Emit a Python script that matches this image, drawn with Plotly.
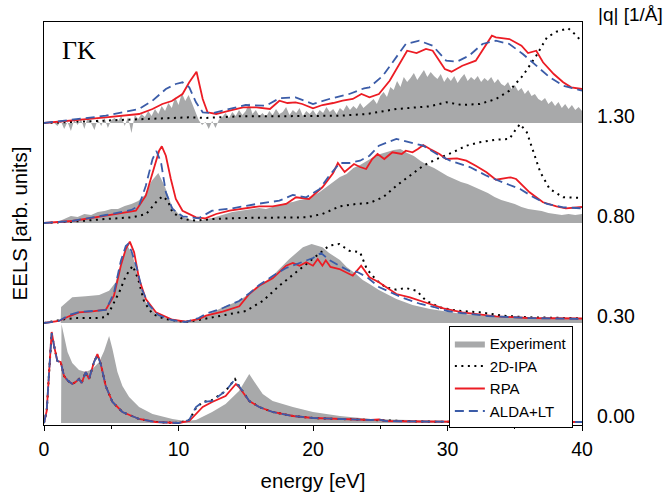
import numpy as np
import plotly.graph_objects as go

# ---------------- tick labels / categories ----------------
q_labels = ["0.00", "0.30", "0.80", "1.30"]
panel_offsets = [0.0, 1.0, 2.0, 3.0]
x_ticks = [0, 10, 20, 30, 40]

# ---------------- panel |q| = 0.00 ----------------
e4_exp = [0, 1.27, 1.3, 1.5, 1.75, 2.1, 2.6, 3.1, 3.6, 4.1, 4.47, 4.84, 5.09, 5.46, 5.83, 6.33, 7.07, 8.07,
          9.55, 10.5, 11.3, 12.5, 13.5, 14.5, 15.0, 15.26, 15.6, 16.26, 17.0, 18.5, 20.0, 22.0, 24.3, 27, 30, 35, 40]
v4_exp = [0, 0, 0.99, 0.87, 0.71, 0.60, 0.53, 0.51, 0.54, 0.61, 0.72, 0.87, 0.74, 0.51, 0.37, 0.26, 0.16, 0.09,
          0.04, 0.02, 0.03, 0.11, 0.19, 0.32, 0.44, 0.49, 0.42, 0.29, 0.22, 0.16, 0.11, 0.07, 0.04, 0.03, 0.02, 0.015, 0.01]

e4_rpa = [0, 0.2, 0.4, 0.57, 0.75, 0.99, 1.24, 1.49, 1.8, 2.11, 2.35, 2.6, 2.8, 3.1, 3.35, 3.72, 3.97, 4.22,
          4.59, 5.09, 5.83, 7.07, 8.3, 10.0, 10.8, 11.3, 11.8, 12.5, 13.5, 14.27, 14.5, 15.26, 16.0, 17.0, 18.5,
          20.0, 22.0, 24.3, 24.9, 25.4, 28, 32, 36, 40]
v4_rpa = [0, 0.12, 0.55, 0.91, 0.77, 0.62, 0.61, 0.47, 0.42, 0.39, 0.41, 0.44, 0.40, 0.51, 0.44, 0.61, 0.69, 0.59,
          0.37, 0.21, 0.11, 0.04, 0.01, 0.0, 0.02, 0.09, 0.16, 0.21, 0.27, 0.39, 0.36, 0.22, 0.16, 0.11, 0.07,
          0.05, 0.04, 0.03, 0.035, 0.02, 0.015, 0.01, 0.01, 0.01]

e4_alda = [0, 0.2, 0.4, 0.57, 0.75, 0.99, 1.24, 1.49, 1.8, 2.11, 2.35, 2.6, 2.8, 3.1, 3.35, 3.72, 3.97, 4.22,
           4.59, 5.09, 5.83, 7.07, 8.3, 10.0, 10.8, 11.3, 11.8, 12.5, 13.5, 14.1, 14.5, 15.26, 16.0, 17.0, 18.5,
           20.0, 22.0, 24.3, 24.9, 25.4, 28, 32, 36, 40]
v4_alda = [0, 0.12, 0.55, 0.90, 0.77, 0.62, 0.61, 0.47, 0.42, 0.39, 0.41, 0.44, 0.40, 0.51, 0.44, 0.61, 0.68, 0.59,
           0.37, 0.21, 0.11, 0.04, 0.01, 0.0, 0.03, 0.16, 0.21, 0.22, 0.32, 0.42, 0.37, 0.22, 0.16, 0.11, 0.07,
           0.05, 0.04, 0.03, 0.035, 0.02, 0.015, 0.01, 0.01, 0.01]

e4_ipa = [0, 0.2, 0.4, 0.57, 0.75, 0.99, 1.24, 1.49, 1.8, 2.11, 2.35, 2.6, 2.8, 3.1, 3.35, 3.72, 3.97, 4.22,
          4.59, 5.09, 5.83, 7.07, 8.3, 10.0, 10.8, 11.3, 11.8, 12.5, 13.5, 14.2, 14.5, 15.26, 16.0, 17.0, 18.5,
          20.0, 22.0, 24.3, 28, 32, 36, 40]
v4_ipa = [0, 0.12, 0.55, 0.90, 0.77, 0.62, 0.61, 0.47, 0.42, 0.39, 0.41, 0.44, 0.40, 0.51, 0.44, 0.61, 0.68, 0.59,
          0.37, 0.21, 0.11, 0.04, 0.01, 0.0, 0.03, 0.15, 0.21, 0.23, 0.32, 0.44, 0.37, 0.22, 0.16, 0.11, 0.07,
          0.05, 0.04, 0.03, 0.015, 0.01, 0.01, 0.01]

# ---------------- panel |q| = 0.30 ----------------
e3_exp = [0, 1.24, 1.27, 2.1, 3.1, 4.1, 4.84, 5.33, 5.83, 6.2, 6.6, 7.07, 7.57, 8.32, 9.55, 11.0, 12.04, 13.3,
          14.5, 15.75, 17.0, 18.24, 19.25, 19.9, 20.7, 21.2, 22.0, 22.5, 23.2, 23.7, 24.2, 24.9, 26.2, 27.4, 28.7,
          31.1, 33.6, 36.1, 40]
v3_exp = [0, 0, 0.16, 0.257, 0.267, 0.28, 0.323, 0.407, 0.64, 0.775, 0.673, 0.407, 0.207, 0.09, 0.033, 0.02,
          0.073, 0.157, 0.223, 0.34, 0.473, 0.64, 0.757, 0.79, 0.757, 0.70, 0.63, 0.56, 0.49, 0.43, 0.39, 0.33,
          0.24, 0.18, 0.14, 0.09, 0.067, 0.053, 0.04]

e3_rpa = [0, 1.12, 1.86, 2.6, 3.6, 4.6, 5.2, 5.71, 6.08, 6.38, 6.7, 7.07, 7.57, 8.32, 9.55, 10.55, 11.54, 12.04,
          13.28, 14.52, 15.26, 16.0, 17.0, 18.0, 18.5, 19.0, 19.5, 20.0, 20.35, 20.7, 20.95, 21.3, 21.96, 22.96,
          23.58, 24.2, 24.9, 26.2, 27.2, 27.9, 28.7, 29.7, 31.1, 33.6, 36, 40]
v3_rpa = [0, 0.02, 0.067, 0.107, 0.117, 0.133, 0.273, 0.573, 0.74, 0.813, 0.707, 0.44, 0.24, 0.107, 0.033, 0.013,
          0.04, 0.073, 0.113, 0.167, 0.29, 0.373, 0.447, 0.573, 0.60, 0.573, 0.607, 0.573, 0.64, 0.573, 0.627,
          0.56, 0.54, 0.473, 0.573, 0.457, 0.407, 0.29, 0.257, 0.223, 0.19, 0.147, 0.107, 0.067, 0.05, 0.045]

e3_alda = [0, 1.1, 1.86, 2.6, 3.6, 4.6, 5.2, 5.71, 6.08, 6.25, 6.5, 6.9, 7.3, 7.8, 8.5, 9.5, 10.5, 11.5, 12.0,
           13.3, 14.5, 15.3, 16.0, 17.0, 18.0, 19.0, 20.0, 20.6, 21.2, 22.0, 22.7, 23.3, 24.0, 24.9, 26.0, 26.7,
           28.0, 29.0, 30.0, 31.0, 33.0, 36.0, 40]
v3_alda = [0, 0.02, 0.08, 0.11, 0.12, 0.13, 0.30, 0.62, 0.77, 0.79, 0.72, 0.55, 0.33, 0.18, 0.08, 0.03, 0.01,
           0.05, 0.09, 0.15, 0.22, 0.30, 0.38, 0.47, 0.55, 0.60, 0.65, 0.70, 0.63, 0.57, 0.52, 0.51, 0.46, 0.36,
           0.29, 0.25, 0.19, 0.16, 0.12, 0.10, 0.07, 0.05, 0.04]

e3_ipa = [0, 1.6, 2.5, 4.0, 4.6, 4.84, 5.6, 6.08, 6.6, 7.0, 7.45, 8.07, 9.0, 10.5, 11.5, 13.3, 15.0, 16.26, 17.5,
          18.74, 20.0, 21.2, 21.96, 22.7, 23.5, 24.0, 24.7, 25.4, 26.2, 26.9, 27.7, 28.4, 29.4, 30.7, 32.4, 34.1,
          36.0, 40]
v3_ipa = [0, 0.04, 0.05, 0.05, 0.06, 0.107, 0.31, 0.47, 0.573, 0.44, 0.21, 0.09, 0.04, 0.01, 0.03, 0.073, 0.12,
          0.22, 0.373, 0.507, 0.64, 0.773, 0.79, 0.723, 0.707, 0.54, 0.43, 0.357, 0.333, 0.35, 0.323, 0.223, 0.157,
          0.123, 0.107, 0.073, 0.057, 0.047]

# ---------------- panel |q| = 0.80 ----------------
# experiment sampled every 0.5 eV from 0 to 40
v2_exp = [0.0, 0.0, 0.01, 0.04, 0.07, 0.06, 0.09, 0.08, 0.11, 0.12, 0.14, 0.14, 0.17, 0.19, 0.22, 0.28,
          0.42, 0.50, 0.36, 0.17, 0.09, 0.05, 0.03, 0.02, 0.04, 0.05, 0.07, 0.09, 0.11, 0.12, 0.13, 0.14,
          0.15, 0.14, 0.16, 0.18, 0.20, 0.21, 0.23, 0.24, 0.27, 0.31, 0.36, 0.41, 0.46, 0.49, 0.55, 0.58,
          0.62, 0.66, 0.69, 0.71, 0.73, 0.74, 0.70, 0.67, 0.62, 0.58, 0.55, 0.51, 0.47, 0.44, 0.41, 0.39,
          0.36, 0.33, 0.30, 0.26, 0.23, 0.21, 0.19, 0.16, 0.14, 0.13, 0.12, 0.10, 0.09, 0.08, 0.09, 0.08, 0.09]

e2_rpa = [0, 2.11, 4.6, 6.83, 7.57, 8.2, 8.56, 8.76, 9.06, 9.43, 9.8, 10.3, 11.3, 12.0, 12.8, 13.8, 15.0, 16.0,
          17.0, 18.0, 18.74, 19.7, 20.7, 21.5, 21.85, 22.35, 23.05, 23.5, 23.95, 24.4, 24.8, 25.3, 25.9, 26.6,
          26.9, 27.4, 27.8, 28.2, 28.7, 29.4, 29.9, 30.7, 31.4, 32.1, 32.9, 33.6, 34.7, 35.1, 36.1, 37.1, 38.1,
          38.8, 40]
v2_rpa = [0, 0.02, 0.073, 0.123, 0.273, 0.573, 0.723, 0.767, 0.673, 0.44, 0.24, 0.123, 0.057, 0.047, 0.09,
          0.123, 0.147, 0.167, 0.167, 0.19, 0.257, 0.24, 0.357, 0.50, 0.60, 0.51, 0.59, 0.56, 0.54, 0.64, 0.69,
          0.64, 0.707, 0.69, 0.723, 0.707, 0.74, 0.78, 0.74, 0.69, 0.64, 0.647, 0.623, 0.573, 0.507, 0.433,
          0.457, 0.44, 0.307, 0.207, 0.167, 0.147, 0.16]

e2_alda = [0, 2.1, 4.6, 6.5, 7.07, 7.57, 8.07, 8.36, 8.7, 9.06, 9.55, 10.3, 11.5, 12.5, 14.0, 15.8, 17.5, 18.5,
           19.5, 20.5, 21.2, 22.0, 22.7, 23.5, 24.2, 24.9, 26.2, 27.2, 28.2, 29.2, 30.2, 31.7, 32.9, 34.1, 35.4,
           36.4, 37.4, 38.6, 40]
v2_alda = [0, 0.02, 0.08, 0.13, 0.173, 0.373, 0.64, 0.72, 0.607, 0.307, 0.14, 0.067, 0.047, 0.123, 0.147, 0.19,
           0.223, 0.28, 0.257, 0.34, 0.473, 0.60, 0.60, 0.623, 0.673, 0.773, 0.84, 0.807, 0.773, 0.69, 0.623,
           0.557, 0.473, 0.407, 0.34, 0.257, 0.19, 0.157, 0.147]

e2_ipa = [0, 2.1, 4.6, 6.6, 7.6, 8.32, 8.8, 9.2, 9.55, 10.3, 11.3, 12.5, 14.5, 17.0, 19.5, 20.7, 21.5, 22.0,
          23.2, 24.2, 25.2, 26.2, 27.2, 28.2, 29.2, 30.4, 31.4, 32.4, 33.6, 34.6, 35.1, 35.4, 35.9, 36.4, 36.9,
          37.6, 38.6, 40]
v2_ipa = [0, 0.013, 0.04, 0.057, 0.09, 0.207, 0.267, 0.223, 0.107, 0.04, 0.023, 0.04, 0.05, 0.05, 0.057, 0.09,
          0.14, 0.167, 0.19, 0.2, 0.257, 0.373, 0.473, 0.573, 0.64, 0.707, 0.773, 0.807, 0.833, 0.84, 0.94, 0.99,
          0.907, 0.707, 0.507, 0.34, 0.257, 0.25]

# ---------------- panel |q| = 1.30 ----------------
# experiment sampled every 0.25 eV from 0 to 40 (noisy)
v1_exp = [0.0, 0.0, 0.01, 0.0, -0.03, 0.02, -0.06, 0.01, -0.08,
          0.03, -0.02, 0.04, -0.06, 0.06, 0.0, -0.07, 0.04, -0.03, 0.05, -0.05, 0.03,
          0.05, 0.02, 0.07, -0.03, 0.06, -0.1, 0.08, 0.04, 0.09, 0.06, 0.12, 0.07,
          0.14, 0.09, 0.17, 0.12, 0.2, 0.15, 0.26, 0.18, 0.3, 0.22, 0.28, 0.2,
          0.12, 0.03, -0.02, 0.01, -0.06, 0.02, -0.05, 0.03,
          0.06, 0.1, 0.05, 0.11, 0.07, 0.13, 0.08, 0.12, 0.2, 0.09, 0.13, 0.07,
          0.1, 0.06, 0.12, 0.08, 0.14, 0.09, 0.11, 0.16, 0.08, 0.13, 0.1, 0.15, 0.07, 0.12, 0.09, 0.13,
          0.08, 0.13, 0.1, 0.16, 0.11, 0.14, 0.09, 0.15, 0.12, 0.18, 0.13, 0.17, 0.14, 0.2, 0.15, 0.18,
          0.2, 0.24, 0.19, 0.27, 0.31, 0.26, 0.36, 0.33,
          0.42, 0.36, 0.46, 0.41, 0.45, 0.5, 0.43, 0.48, 0.53, 0.46, 0.51, 0.47, 0.44, 0.49, 0.41, 0.46,
          0.42, 0.47, 0.4, 0.45, 0.49, 0.42, 0.46, 0.43, 0.47, 0.41, 0.45, 0.42, 0.46, 0.4, 0.44, 0.39,
          0.37, 0.41, 0.34, 0.38, 0.32, 0.35, 0.29, 0.33, 0.27, 0.29, 0.24, 0.22,
          0.25, 0.19, 0.22, 0.17, 0.21, 0.15, 0.19, 0.14, 0.18, 0.13, 0.16, 0.12]

e1_rpa = [0, 2.1, 4.6, 7.07, 8.07, 8.8, 9.5, 10.3, 10.8, 11.34, 11.8, 12.16, 12.8, 13.8, 14.8, 15.8, 16.8, 17.5,
          18.1, 18.7, 19.2, 20.0, 20.7, 21.5, 22.2, 22.96, 23.6, 24.2, 24.9, 25.7, 26.4, 27.0, 27.7, 28.4, 28.9,
          29.4, 29.8, 30.3, 31.1, 32.1, 32.8, 33.3, 33.6, 34.6, 35.5, 35.99, 36.6, 37.1, 37.9, 38.6, 39.2, 40]
v1_rpa = [0, 0.023, 0.057, 0.09, 0.14, 0.19, 0.22, 0.29, 0.407, 0.513, 0.24, 0.107, 0.09, 0.123, 0.157, 0.157,
          0.14, 0.223, 0.2, 0.207, 0.19, 0.147, 0.18, 0.2, 0.223, 0.24, 0.29, 0.257, 0.29, 0.423, 0.59, 0.723,
          0.70, 0.74, 0.723, 0.623, 0.54, 0.513, 0.573, 0.623, 0.773, 0.873, 0.857, 0.84, 0.773, 0.70, 0.723,
          0.607, 0.49, 0.407, 0.357, 0.34]

e1_alda = [0, 2.1, 4.6, 7.07, 8.07, 9.06, 9.8, 10.3, 10.8, 11.3, 11.8, 12.5, 13.8, 15.0, 16.5, 17.5, 18.7, 20.0,
           21.2, 22.7, 23.8, 24.2, 25.2, 26.2, 26.9, 27.9, 28.9, 29.9, 30.7, 31.6, 32.6, 33.6, 34.6, 35.6, 36.6,
           37.6, 38.6, 40]
v1_alda = [0, 0.033, 0.073, 0.14, 0.223, 0.34, 0.39, 0.407, 0.357, 0.207, 0.107, 0.097, 0.14, 0.18, 0.173,
           0.247, 0.257, 0.19, 0.24, 0.29, 0.347, 0.357, 0.473, 0.657, 0.79, 0.823, 0.773, 0.623, 0.613, 0.673,
           0.79, 0.823, 0.79, 0.69, 0.573, 0.457, 0.373, 0.323]

e1_ipa = [0, 2, 4.6, 8.3, 10.8, 12.0, 14.5, 17.0, 19.5, 22.0, 24.0, 26.2, 28.7, 29.9, 31.1, 32.4, 33.6, 34.6,
          35.6, 36.6, 37.4, 38.1, 38.97, 39.6, 40]
v1_ipa = [0, 0.01, 0.023, 0.04, 0.057, 0.05, 0.067, 0.067, 0.073, 0.073, 0.09, 0.14, 0.167, 0.207, 0.18, 0.19,
          0.24, 0.323, 0.473, 0.673, 0.857, 0.913, 0.947, 0.873, 0.807]

# experiment energy grids for the uniformly sampled panels
e2_exp = list(np.arange(len(v2_exp)) * 0.5)
e1_exp = list(np.arange(len(v1_exp)) * 0.25)

panels = [
    (e4_exp, v4_exp, e4_ipa, v4_ipa, e4_rpa, v4_rpa, e4_alda, v4_alda),
    (e3_exp, v3_exp, e3_ipa, v3_ipa, e3_rpa, v3_rpa, e3_alda, v3_alda),
    (e2_exp, v2_exp, e2_ipa, v2_ipa, e2_rpa, v2_rpa, e2_alda, v2_alda),
    (e1_exp, v1_exp, e1_ipa, v1_ipa, e1_rpa, v1_rpa, e1_alda, v1_alda),
]

GRAY = "#a8a9aa"
RED = "#ec1c24"
BLUE = "#3b5ca8"
FONT = "Liberation Sans, Arial, sans-serif"

fig = go.Figure()
for i, (ex, ev, ix, iv, rx, rv, ax, av) in enumerate(panels):
    off = panel_offsets[i]
    first = (i == 0)
    px = list(ex) + [ex[-1], ex[0]]
    py = [v + off for v in ev] + [off, off]
    fig.add_trace(go.Scatter(x=px, y=py, fill="toself", fillcolor=GRAY, mode="lines",
                             line=dict(width=0, color=GRAY), name="Experiment",
                             showlegend=first, hoverinfo="skip"))
    fig.add_trace(go.Scatter(x=ix, y=[v + off for v in iv], mode="lines",
                             line=dict(color="black", width=2, dash="2px,4.5px"),
                             name="2D-IPA", showlegend=first))
    fig.add_trace(go.Scatter(x=rx, y=[v + off for v in rv], mode="lines",
                             line=dict(color=RED, width=1.8),
                             name="RPA", showlegend=first))
    fig.add_trace(go.Scatter(x=ax, y=[v + off for v in av], mode="lines",
                             line=dict(color=BLUE, width=1.8, dash="9px,5px"),
                             name="ALDA+LT", showlegend=first))

# invisible trace to carry the right-hand |q| axis
fig.add_trace(go.Scatter(x=[0], y=[0], yaxis="y2", mode="markers",
                         marker=dict(opacity=0), showlegend=False, hoverinfo="skip"))

y_range = [-0.02, 4.01]
fig.update_layout(
    width=663, height=493,
    margin=dict(l=44, r=81, t=22, b=68),
    paper_bgcolor="white", plot_bgcolor="white",
    font=dict(family=FONT, size=19, color="black"),
    xaxis=dict(range=[0, 40], tickvals=x_ticks, ticks="outside", ticklen=5, tickwidth=1,
               tickcolor="black", showline=True, linecolor="black", linewidth=1.2, mirror=True,
               showgrid=False, zeroline=False, tickfont=dict(size=19.5), ticklabelstandoff=1,
               automargin=False,
               minor=dict(dtick=5, ticks="outside", ticklen=3, tickcolor="black", showgrid=False),
               title=dict(text="energy [eV]", font=dict(size=20.5), standoff=15)),
    yaxis=dict(range=y_range, showticklabels=False, ticks="", showline=True, linecolor="black",
               linewidth=1.2, mirror=True, showgrid=False, zeroline=False, automargin=False,
               title=dict(text="EELS [arb. units]", font=dict(size=20.5), standoff=9)),
    yaxis2=dict(range=y_range, overlaying="y", side="right", tickvals=[o + 0.07 for o in panel_offsets],
                ticktext=q_labels, ticks="", showline=False, showgrid=False, zeroline=False,
                automargin=False, tickfont=dict(size=19.5), ticklabelstandoff=14),
    legend=dict(x=0.983, y=0.245, xanchor="right", yanchor="top", bgcolor="white",
                bordercolor="black", borderwidth=1, font=dict(size=15), itemwidth=30,
                tracegroupgap=0),
    showlegend=True,
    annotations=[
        dict(text="ΓK", xref="paper", yref="paper", x=0.03, y=0.93, xanchor="left", yanchor="middle",
             showarrow=False, font=dict(family="Liberation Serif, Times New Roman, serif", size=26)),
        dict(text="|q| [1/Å]", xref="paper", yref="paper", x=1.026, y=1.018, xanchor="left",
             yanchor="middle", showarrow=False, font=dict(size=19)),
    ],
)

fig.write_html("out.html")
